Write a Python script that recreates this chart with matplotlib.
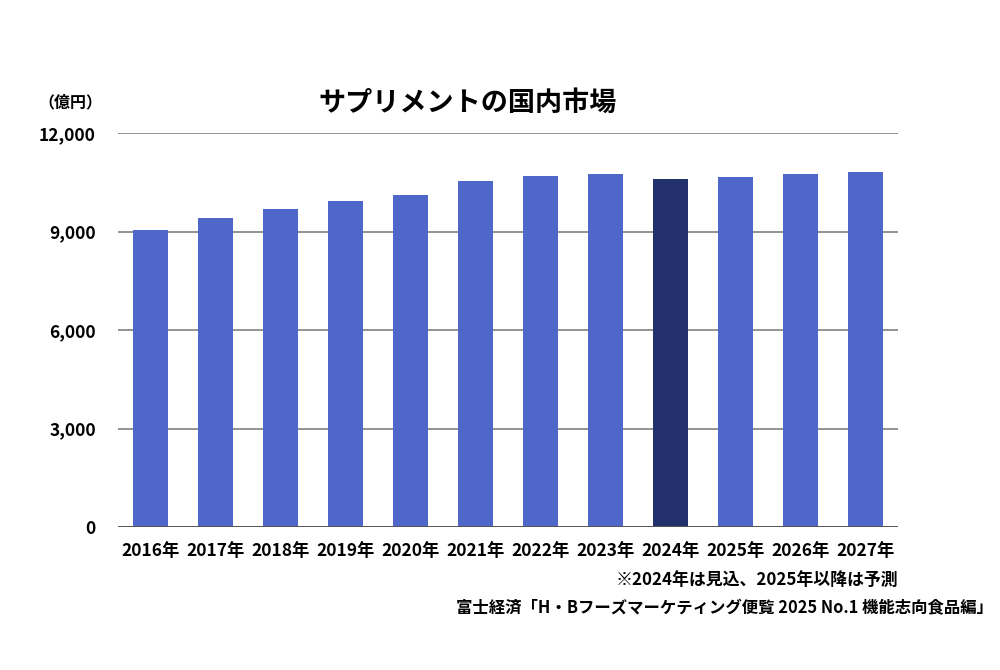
import matplotlib.pyplot as plt

plt.rcParams['font.family'] = ['Noto Sans CJK JP', 'DejaVu Sans']

years = ['2016年', '2017年', '2018年', '2019年', '2020年', '2021年',
         '2022年', '2023年', '2024年', '2025年', '2026年', '2027年']
market = [9060, 9420, 9700, 9930, 10100, 10540,
          10690, 10760, 10600, 10660, 10740, 10810]
highlight = '2024年'

bar_color = '#4F67C8'
dark_color = '#22306B'
colors = [dark_color if y == highlight else bar_color for y in years]

fig = plt.figure(figsize=(10, 6.7), dpi=100)
ax = fig.add_axes([0.118, 0.2134, 0.78, 0.588])

ax.bar(range(len(years)), market, width=0.55, color=colors, zorder=3)

ax.set_ylim(0, 12000)
ax.set_xlim(-0.5, len(years) - 0.5)
ax.set_yticks(range(0, 12001, 3000))
ax.set_yticklabels(['0', '3,000', '6,000', '9,000', '12,000'])
ax.set_xticks(range(len(years)))
ax.set_xticklabels(years)
ax.grid(axis='y', color='#7f7f7f', linewidth=1.2, zorder=0)
ax.axhline(0, color='#555555', linewidth=1.4, zorder=4)
for s in ax.spines.values():
    s.set_visible(False)
ax.tick_params(length=0)
ax.tick_params(axis='y', pad=16, labelsize=12.5)
ax.tick_params(axis='x', pad=11, labelsize=12.5)
for lab in ax.get_xticklabels() + ax.get_yticklabels():
    lab.set_fontweight('bold')

fig.text(0.468, 0.847, 'サプリメントの国内市場', ha='center', va='center',
         fontsize=19.5, fontweight='bold')
fig.text(0.07, 0.847, '（億円）', ha='center', va='center',
         fontsize=11.5, fontweight='bold')
fig.text(0.898, 0.134, '※2024年は見込、2025年以降は予測', ha='right', va='center',
         fontsize=12.2, fontweight='bold')
fig.text(0.993, 0.092, '富士経済「H・Bフーズマーケティング便覧 2025 No.1 機能志向食品編」',
         ha='right', va='center', fontsize=11.8, fontweight='bold')

plt.savefig('out.png')
